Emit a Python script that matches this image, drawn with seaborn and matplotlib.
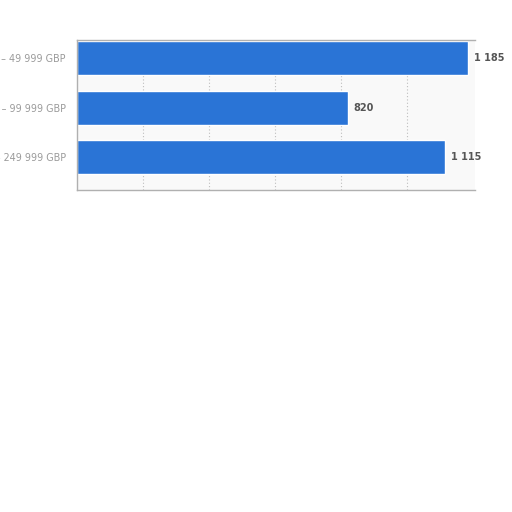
import matplotlib
matplotlib.use("Agg")
import matplotlib.pyplot as plt
import seaborn as sns
import pandas as pd

# income bands and respondent counts
bands = ["0 – 49 999 GBP", "50 000 – 99 999 GBP", "100 000 – 249 999 GBP"]
counts = [1185, 820, 1115]
count_labels = ["1 185", "820", "1 115"]

df = pd.DataFrame({"band": bands, "count": counts})

sns.set_style("white")
plt.rcParams["font.family"] = ["DejaVu Sans"]

fig = plt.figure(figsize=(5.12, 5.12), dpi=100)
ax = fig.add_axes([0.150, 0.629, 0.778, 0.293])
ax.set_facecolor("#f9f9f9")

sns.barplot(data=df, x="count", y="band", color="#2a74d6", saturation=1,
            width=0.68, ax=ax)

ax.set_xlim(0, 1206)
ax.set_ylim(2.66, -0.37)
ax.set_xticks([200, 400, 600, 800, 1000])
ax.set_xticklabels([])
ax.tick_params(axis="x", length=0)
ax.tick_params(axis="y", length=0, labelsize=6.9, labelcolor="#9a9a9a", pad=8)
ax.xaxis.grid(True, color="#bdbdbd", linestyle=(0, (1, 2)), linewidth=0.8)
ax.set_axisbelow(True)
ax.set_xlabel("")
ax.set_ylabel("")

for s in ["left", "bottom", "top"]:
    ax.spines[s].set_color("#b0b0b0")
    ax.spines[s].set_linewidth(1)
ax.spines["right"].set_visible(False)

for i, (v, lab) in enumerate(zip(counts, count_labels)):
    ax.text(v + 18, i, lab, va="center", ha="left", fontsize=7,
            fontweight="bold", color="#555555", clip_on=False)

fig.savefig("out.png", dpi=100)
